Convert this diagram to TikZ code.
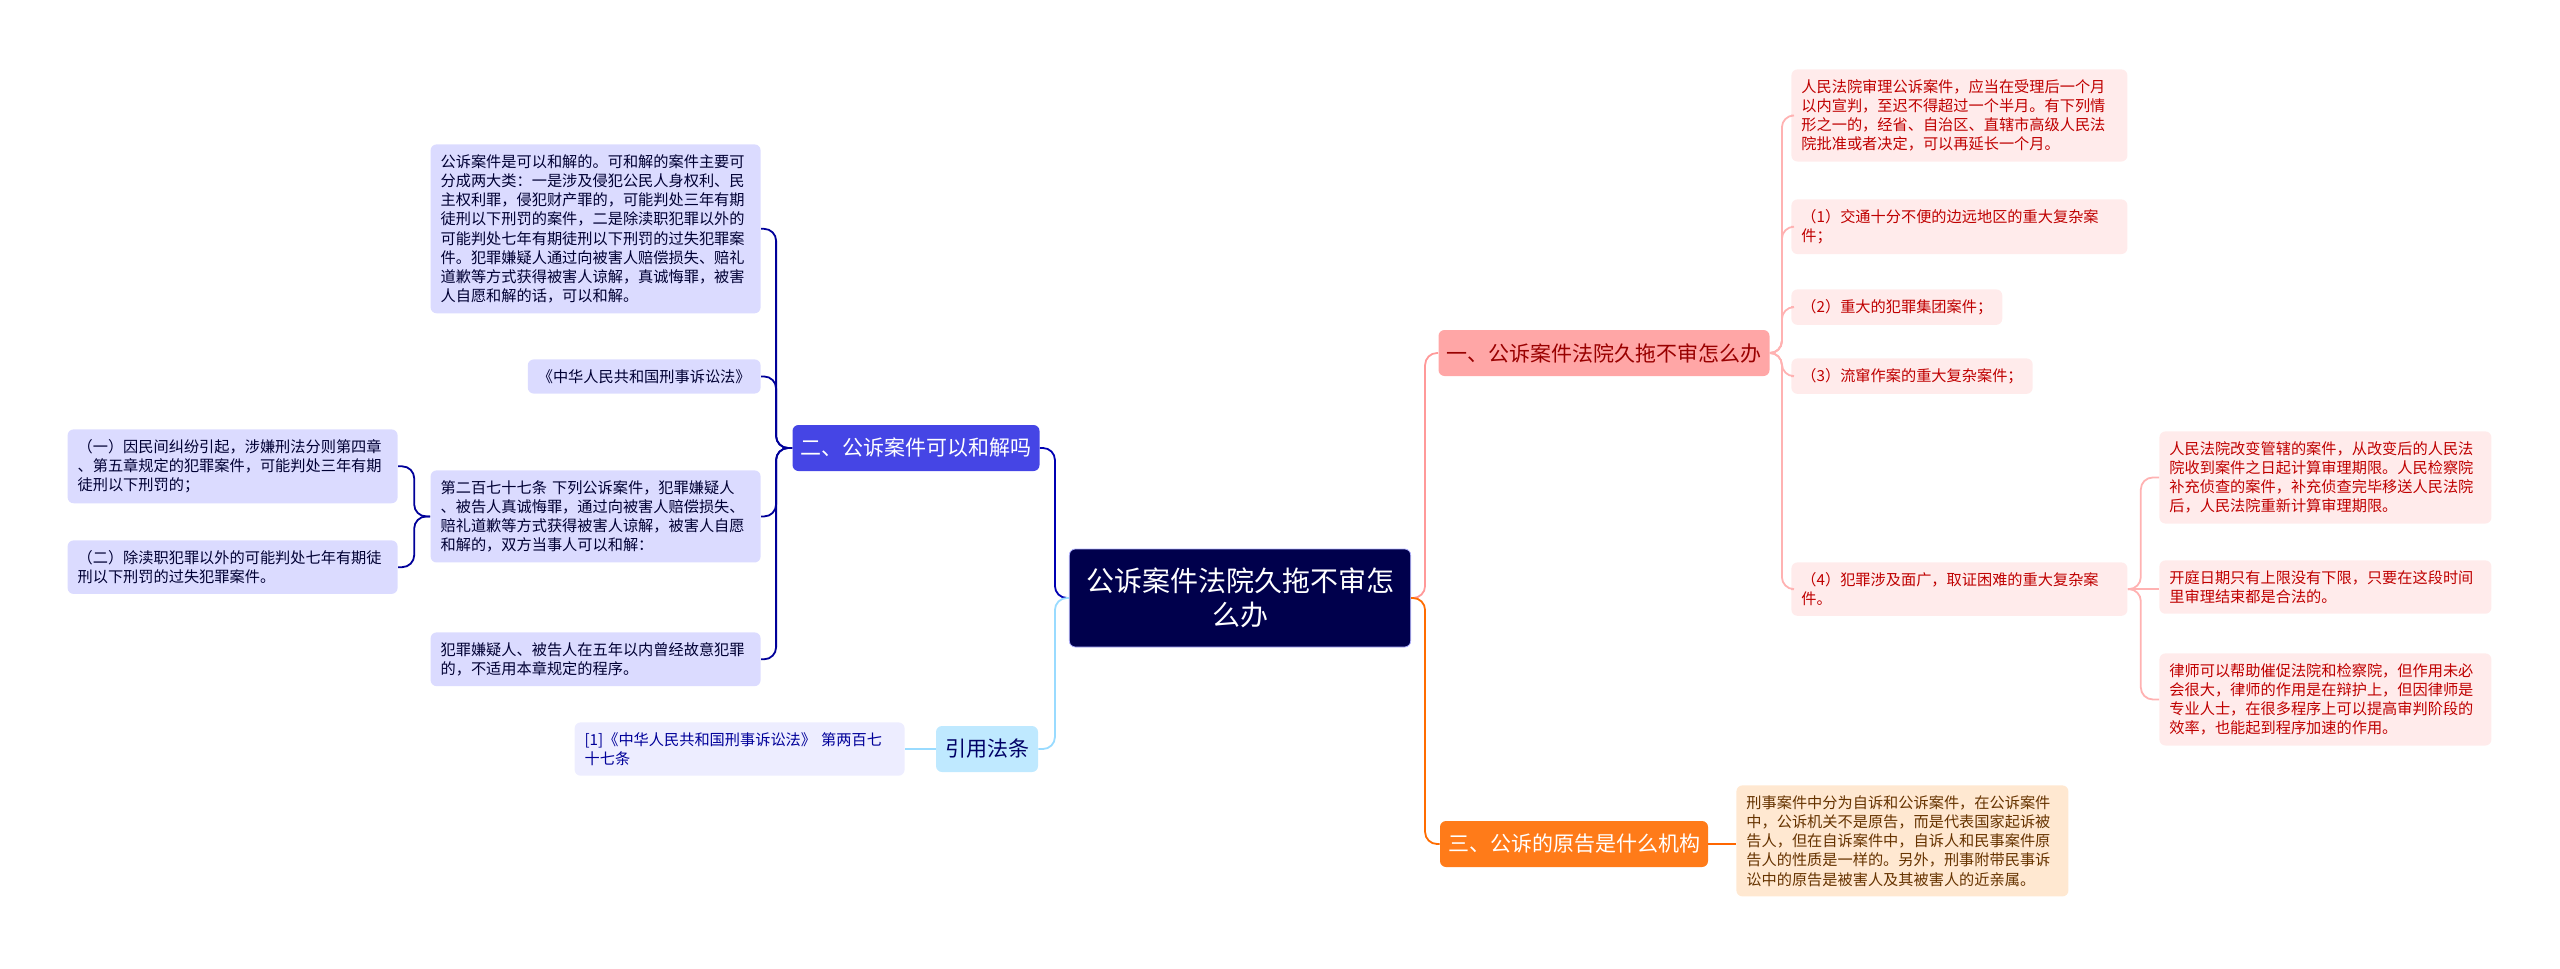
\documentclass[tikz,border=0pt]{standalone}
\usepackage{fontspec}
\setmainfont{Noto Sans CJK SC}
\begin{document}
\begin{tikzpicture}[x=0.5pt,y=-0.5pt,
 box/.style={rounded corners=3pt,inner sep=5pt,align=left,font=\fontsize{7.6}{9.6}\selectfont,anchor=north west},
 rleaf/.style={box,fill=red!8!white,text=red!75!black},
 lleaf/.style={box,fill=blue!14!white,text=blue!20!black},
 oleaf/.style={box,fill=orange!18!white,text=orange!40!black},
 cleaf/.style={box,fill=blue!7!white,text=blue!60!black},
 br/.style={rounded corners=3pt,inner sep=4pt,font=\fontsize{10.5}{12}\selectfont,minimum height=23pt},
 lnk/.style={rounded corners=6pt,line width=0.9pt}]
\useasboundingbox (0,0) rectangle (2560,969);
\node[rounded corners=3pt,fill=blue!30!black,draw=blue!30!white,text=white,font=\fontsize{14}{17}\selectfont,align=center,text width=164pt,minimum height=49pt] (c) at (1240,598) {公诉案件法院久拖不审怎\\么办};
\node[br,fill=red!35!white,text=red!60!black,minimum width=162pt] (b1) at (1604,353) {一、公诉案件法院久拖不审怎么办};
\node[br,fill=orange!85!red!90!white,text=white,minimum width=132pt] (b3) at (1574,844) {三、公诉的原告是什么机构};
\node[br,fill=blue!70!white!90!black,text=white,minimum width=122pt] (b2) at (916,448) {二、公诉案件可以和解吗};
\node[br,fill=blue!35!cyan!25!white,text=blue!40!black,minimum width=51pt] (b4) at (987,749) {引用法条};
% right leaves
\node[rleaf,text width=158pt] (r1) at (1791,69) {人民法院审理公诉案件，应当在受理后一个月\\以内宣判，至迟不得超过一个半月。有下列情\\形之一的，经省、自治区、直辖市高级人民法\\院批准或者决定，可以再延长一个月。};
\node[rleaf,text width=158pt] (r2) at (1791,199) {（1）交通十分不便的边远地区的重大复杂案\\件；};
\node[rleaf] (r3) at (1791,289) {（2）重大的犯罪集团案件；};
\node[rleaf] (r4) at (1791,358) {（3）流窜作案的重大复杂案件；};
\node[rleaf,text width=158pt] (r5) at (1791,562) {（4）犯罪涉及面广，取证困难的重大复杂案\\件。};
\node[rleaf,text width=156pt] (s1) at (2159,431) {人民法院改变管辖的案件，从改变后的人民法\\院收到案件之日起计算审理期限。人民检察院\\补充侦查的案件，补充侦查完毕移送人民法院\\后，人民法院重新计算审理期限。};
\node[rleaf,text width=156pt] (s2) at (2159,560) {开庭日期只有上限没有下限，只要在这段时间\\里审理结束都是合法的。};
\node[rleaf,text width=156pt] (s3) at (2159,653) {律师可以帮助催促法院和检察院，但作用未必\\会很大，律师的作用是在辩护上，但因律师是\\专业人士，在很多程序上可以提高审判阶段的\\效率，也能起到程序加速的作用。};
\node[oleaf,text width=156pt] (o1) at (1736,785) {刑事案件中分为自诉和公诉案件，在公诉案件\\中，公诉机关不是原告，而是代表国家起诉被\\告人，但在自诉案件中，自诉人和民事案件原\\告人的性质是一样的。另外，刑事附带民事诉\\讼中的原告是被害人及其被害人的近亲属。};
% left leaves
\node[lleaf,text width=155pt,anchor=north east] (a1) at (761,144) {公诉案件是可以和解的。可和解的案件主要可\\分成两大类：一是涉及侵犯公民人身权利、民\\主权利罪，侵犯财产罪的，可能判处三年有期\\徒刑以下刑罚的案件，二是除渎职犯罪以外的\\可能判处七年有期徒刑以下刑罚的过失犯罪案\\件。犯罪嫌疑人通过向被害人赔偿损失、赔礼\\道歉等方式获得被害人谅解，真诚悔罪，被害\\人自愿和解的话，可以和解。};
\node[lleaf,anchor=north east] (a2) at (761,359) {《中华人民共和国刑事诉讼法》};
\node[lleaf,text width=155pt,anchor=north east] (a3) at (761,470) {第二百七十七条 下列公诉案件，犯罪嫌疑人\\、被告人真诚悔罪，通过向被害人赔偿损失、\\赔礼道歉等方式获得被害人谅解，被害人自愿\\和解的，双方当事人可以和解：};
\node[lleaf,text width=155pt,anchor=north east] (a4) at (761,632) {犯罪嫌疑人、被告人在五年以内曾经故意犯罪\\的，不适用本章规定的程序。};
\node[lleaf,text width=155pt,anchor=north east] (p1) at (398,429) {（一）因民间纠纷引起，涉嫌刑法分则第四章\\、第五章规定的犯罪案件，可能判处三年有期\\徒刑以下刑罚的；};
\node[lleaf,text width=155pt,anchor=north east] (p2) at (398,540) {（二）除渎职犯罪以外的可能判处七年有期徒\\刑以下刑罚的过失犯罪案件。};
\node[cleaf,text width=155pt,anchor=north east] (q1) at (905,722) {[1]《中华人民共和国刑事诉讼法》 第两百七\\十七条};
% connectors
\foreach \t/\col in {b1/red!40!white,b3/orange!85!red}
  \draw[lnk,\col] (c.east) -- ++(14,0) |- (\t.west);
\foreach \t/\col in {b2/blue!70!black,b4/blue!35!cyan!40!white}
  \draw[lnk,\col] (c.west) -- ++(-14,0) |- (\t.east);
\foreach \t in {r1,r2,r3,r4,r5}
  \draw[lnk,red!30!white] (b1.east) -- ++(12,0) |- (\t.west);
\foreach \t in {s1,s3}
  \draw[lnk,red!30!white] (r5.east) -- ++(13,0) |- (\t.west);
\draw[lnk,red!30!white] (r5.east) -- (r5.east -| s2.west);
\draw[lnk,orange!80!red] (b3.east) -- (b3.east -| o1.west);
\foreach \t in {a1,a2,a3,a4}
  \draw[lnk,blue!60!black] (b2.west) -- ++(-16,0) |- (\t.east);
\foreach \t in {p1,p2}
  \draw[lnk,blue!60!black] (a3.west) -- ++(-16,0) |- (\t.east);
\draw[lnk,blue!35!cyan!40!white] (b4.west) -- (b4.west -| q1.east);
\end{tikzpicture}
\end{document}
